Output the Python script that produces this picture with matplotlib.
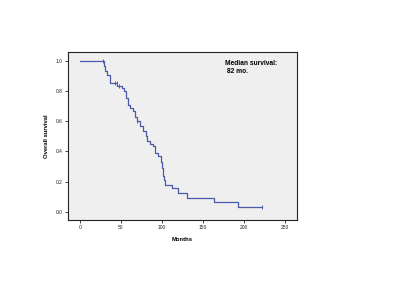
import matplotlib
matplotlib.use("Agg")
import matplotlib.pyplot as plt

# Kaplan-Meier step data (months, survival after step)
times = [0, 29, 30, 33, 36, 45, 51, 54, 56, 58, 61, 65, 67, 70, 73, 77, 80, 82, 85,
         89, 91, 95, 99, 100, 101, 102, 104, 112, 120, 130, 163, 193, 222]
surv = [1.0, 0.965, 0.93, 0.905, 0.855, 0.835, 0.82, 0.80, 0.755, 0.71, 0.69, 0.665,
        0.63, 0.60, 0.57, 0.535, 0.505, 0.47, 0.45, 0.435, 0.39, 0.37, 0.33, 0.29,
        0.24, 0.21, 0.18, 0.155, 0.127, 0.095, 0.063, 0.032, 0.032]
censor_t = [28, 43, 45, 47, 69, 222]
censor_s = [1.0, 0.855, 0.855, 0.835, 0.60, 0.032]

xticks = [0, 50, 100, 150, 200, 250]
yticks = [0.0, 0.2, 0.4, 0.6, 0.8, 1.0]
ytick_labels = ["0.0", "0.2", "0.4", "0.6", "0.8", "1.0"]

plt.rcParams['font.family'] = ['Liberation Sans', 'DejaVu Sans']

fig = plt.figure(figsize=(4.0, 2.96), dpi=100)
ax = fig.add_axes([0.17, 0.257, 0.5725, 0.566])
ax.set_facecolor('#efefef')

color = '#4a5aa8'
ax.step(times, surv, where='post', color=color, lw=0.9)
ax.plot(censor_t, censor_s, linestyle='none', marker='|', color=color,
        markersize=3, markeredgewidth=0.7)

ax.set_xlim(-14.6, 264.6)
ax.set_ylim(-0.053, 1.055)
ax.set_xticks(xticks)
ax.set_xticklabels([str(t) for t in xticks])
ax.set_yticks(yticks)
ax.set_yticklabels(ytick_labels)
ax.tick_params(axis='both', labelsize=3.5, length=2.5, width=0.6, pad=1.5,
               direction='out', colors='#222222')
for sp in ax.spines.values():
    sp.set_linewidth(0.8)
    sp.set_color('#222222')

ax.set_xlabel('Months', fontsize=4.2, fontweight='bold', labelpad=5)
ax.set_ylabel('Overall survival', fontsize=4.2, fontweight='bold', labelpad=5)

ax.text(0.685, 0.955, 'Median survival:\n 82 mo.', transform=ax.transAxes,
        fontsize=4.8, fontweight='bold', va='top', ha='left', linespacing=1.3)

fig.savefig('out.png', dpi=100, facecolor='white')
